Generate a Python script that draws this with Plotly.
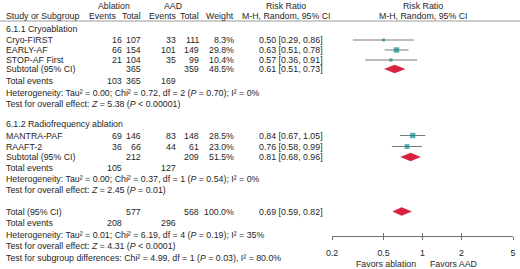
import plotly.graph_objects as go
import math

# ---------------- data ----------------
group_titles = ["6.1.1 Cryoablation", "6.1.2 Radiofrequency ablation"]
study = ["Cryo-FIRST", "EARLY-AF", "STOP-AF First", "MANTRA-PAF", "RAAFT-2"]
abl_events = [16, 66, 21, 69, 36]
abl_total = [107, 154, 104, 146, 66]
aad_events = [33, 101, 35, 83, 44]
aad_total = [111, 149, 99, 148, 61]
weight = [8.3, 29.8, 10.4, 28.5, 23.0]
rr = [0.50, 0.63, 0.57, 0.84, 0.76]
rr_lo = [0.29, 0.51, 0.36, 0.67, 0.58]
rr_hi = [0.86, 0.78, 0.91, 1.05, 0.99]

sub_abl_total = [365, 212]
sub_aad_total = [359, 209]
sub_weight = [48.5, 51.5]
sub_rr = [0.61, 0.81]
sub_lo = [0.51, 0.68]
sub_hi = [0.73, 0.96]
sub_abl_events = [103, 105]
sub_events_row_total = ["365", ""]
sub_aad_events = [169, 127]
sub_het = ["Heterogeneity: Tau² = 0.00; Chi² = 0.72, df = 2 (<i>P</i> = 0.70); I² = 0%",
           "Heterogeneity: Tau² = 0.00; Chi² = 0.37, df = 1 (<i>P</i> = 0.54); I² = 0%"]
sub_test = ["Test for overall effect: <i>Z</i> = 5.38 (<i>P</i> < 0.00001)",
            "Test for overall effect: <i>Z</i> = 2.45 (<i>P</i> = 0.01)"]

tot_abl_total = 577
tot_aad_total = 568
tot_weight = 100.0
tot_rr, tot_lo, tot_hi = 0.69, 0.59, 0.82
tot_abl_events = 208
tot_aad_events = 296
tot_het = "Heterogeneity: Tau² = 0.01; Chi² = 6.19, df = 4 (<i>P</i> = 0.19); I² = 35%"
tot_test = "Test for overall effect: <i>Z</i> = 4.31 (<i>P</i> < 0.0001)"
subgroup_test = "Test for subgroup differences: Chi² = 4.99, df = 1 (<i>P</i> = 0.03), I² = 80.0%"

tick_vals = [0.2, 0.5, 1, 2, 5]
tick_text = ["0.2", "0.5", "1", "2", "5"]
favors_left = "Favors ablation"
favors_right = "Favors AAD"

# ---------------- layout constants (pixel rows / columns) ----------------
W, H = 520, 269
FONT = "Liberation Sans, Arial, Helvetica, sans-serif"
FS = 8.8
TXT = "#262626"
TEAL = "#16898c"
RED = "#d8213f"
GREY = "#7a7a7a"

group_rows = [29, 124]
study_rows = [40, 50, 60, 135.5, 146.5]
sub_rows = [69, 157]
sub_ev_rows = [81, 168]
sub_het_rows = [92.5, 179]
sub_test_rows = [103.5, 190]
tot_row, tot_ev_row, tot_het_row, tot_test_row, subg_row = 211.5, 223, 234.5, 246, 257.5
hdr1_row, hdr2_row, hdr_line = 6, 16, 21
axis_row = 236
favors_row = 264

col_name = 5
col_ae = 123
col_at = 142
col_de = 177
col_dt = 200
col_w = 235
col_ci = 258
col_ci_hdr = 286
abl_hdr_c = 114
aad_hdr_c = 173
ax_left, ax_right = 332, 513
plot_hdr_c = (ax_left + ax_right) / 2

fig = go.Figure()
ann = []


def txt(x, y, s, anchor="left"):
    ann.append(dict(x=x / W, y=y, xref="paper", yref="y", text=s, showarrow=False,
                    xanchor=anchor, yanchor="middle", borderpad=0,
                    font=dict(family=FONT, size=FS, color=TXT)))


def ci_str(a, b, c):
    return f"{a:.2f} [{b:.2f}, {c:.2f}]"


# headers
txt(abl_hdr_c, hdr1_row, "Ablation", "center")
txt(aad_hdr_c, hdr1_row, "AAD", "center")
txt(col_ci_hdr, hdr1_row, "Risk Ratio", "center")
txt(plot_hdr_c, hdr1_row, "Risk Ratio", "center")
txt(col_name, hdr2_row, "Study or Subgroup")
txt(col_ae - 6, hdr2_row, "Events", "right")
txt(col_at, hdr2_row, "Total", "right")
txt(col_de, hdr2_row, "Events", "right")
txt(col_dt, hdr2_row, "Total", "right")
txt(col_w, hdr2_row, "Weight", "right")
txt(col_ci_hdr, hdr2_row, "M-H, Random, 95% CI", "center")
txt(plot_hdr_c, hdr2_row, "M-H, Random, 95% CI", "center")

for g, t in enumerate(group_titles):
    txt(col_name, group_rows[g], t)

for i in range(len(study)):
    y = study_rows[i]
    txt(col_name, y, study[i])
    txt(col_ae, y, str(abl_events[i]), "right")
    txt(col_at, y, str(abl_total[i]), "right")
    txt(col_de, y, str(aad_events[i]), "right")
    txt(col_dt, y, str(aad_total[i]), "right")
    txt(col_w, y, f"{weight[i]:.1f}%", "right")
    txt(col_ci, y, ci_str(rr[i], rr_lo[i], rr_hi[i]))

for g in range(2):
    y = sub_rows[g]
    txt(col_name, y, "Subtotal (95% CI)")
    txt(col_at, y, str(sub_abl_total[g]), "right")
    txt(col_dt, y, str(sub_aad_total[g]), "right")
    txt(col_w, y, f"{sub_weight[g]:.1f}%", "right")
    txt(col_ci, y, ci_str(sub_rr[g], sub_lo[g], sub_hi[g]))
    y = sub_ev_rows[g]
    txt(col_name, y, "Total events")
    txt(col_ae, y, str(sub_abl_events[g]), "right")
    if sub_events_row_total[g]:
        txt(col_at, y, sub_events_row_total[g], "right")
    txt(col_de, y, str(sub_aad_events[g]), "right")
    txt(col_name, sub_het_rows[g], sub_het[g])
    txt(col_name, sub_test_rows[g], sub_test[g])

txt(col_name, tot_row, "Total (95% CI)")
txt(col_at, tot_row, str(tot_abl_total), "right")
txt(col_dt, tot_row, str(tot_aad_total), "right")
txt(col_w, tot_row, f"{tot_weight:.1f}%", "right")
txt(col_ci, tot_row, ci_str(tot_rr, tot_lo, tot_hi))
txt(col_name, tot_ev_row, "Total events")
txt(col_ae, tot_ev_row, str(tot_abl_events), "right")
txt(col_de, tot_ev_row, str(tot_aad_events), "right")
txt(col_name, tot_het_row, tot_het)
txt(col_name, tot_test_row, tot_test)
txt(col_name, subg_row, subgroup_test)

txt(plot_hdr_c - 6, favors_row, favors_left, "right")
txt(plot_hdr_c + 6, favors_row, favors_right, "left")

# ---------------- forest marks ----------------
sizes = [1.0 * math.sqrt(w) for w in weight]
fig.add_trace(go.Scatter(
    x=rr, y=study_rows, mode="markers",
    marker=dict(symbol="square", size=sizes, color=TEAL, line=dict(width=0)),
    error_x=dict(type="data", symmetric=False,
                 array=[h - r for h, r in zip(rr_hi, rr)],
                 arrayminus=[r - l for r, l in zip(rr, rr_lo)],
                 color=GREY, thickness=1, width=0),
    showlegend=False, hoverinfo="skip"))

dh = 3.9
for est, lo, hi, y in list(zip(sub_rr, sub_lo, sub_hi, sub_rows)) + [(tot_rr, tot_lo, tot_hi, tot_row)]:
    fig.add_trace(go.Scatter(
        x=[lo, est, hi, est, lo], y=[y, y - dh, y, y + dh, y], mode="lines",
        fill="toself", fillcolor=RED, line=dict(color=RED, width=0.5),
        showlegend=False, hoverinfo="skip"))

shapes = [
    dict(type="line", xref="paper", yref="y", x0=0, x1=1, y0=hdr_line, y1=hdr_line,
         line=dict(color="#9a9a9a", width=1)),
    dict(type="line", xref="x", yref="y", x0=0, x1=0, y0=hdr_line, y1=axis_row,
         line=dict(color="#8a8a8a", width=1)),
]

lg = math.log10
xaxis_common = dict(type="log", range=[lg(tick_vals[0]), lg(tick_vals[-1])],
                    domain=[ax_left / W, ax_right / W], anchor="free",
                    position=(H - axis_row) / H, tickvals=tick_vals,
                    showgrid=False, zeroline=False, fixedrange=True)

fig.update_layout(
    width=W, height=H, margin=dict(l=0, r=0, t=0, b=0, autoexpand=False),
    paper_bgcolor="white", plot_bgcolor="white",
    xaxis=dict(**xaxis_common, ticktext=tick_text, showline=True, linecolor="#6f6f6f",
               linewidth=1, ticks="outside", ticklen=3, tickcolor="#6f6f6f",
               tickfont=dict(family=FONT, size=FS, color=TXT), ticklabelstandoff=5,
               ticklabeloverflow="allow"),
    xaxis2=dict(**xaxis_common, overlaying="x", showline=False, ticks="inside", ticklen=3,
                tickcolor="#6f6f6f", showticklabels=False),
    yaxis=dict(range=[H, 0], domain=[0, 1], visible=False, fixedrange=True),
    annotations=ann, shapes=shapes,
)
fig.add_trace(go.Scatter(x=[1], y=[axis_row], xaxis="x2", mode="markers",
                         marker=dict(opacity=0), showlegend=False, hoverinfo="skip"))

fig.write_html("out.html", post_script="document.body.style.margin='0';",
               config={"displayModeBar": False})
